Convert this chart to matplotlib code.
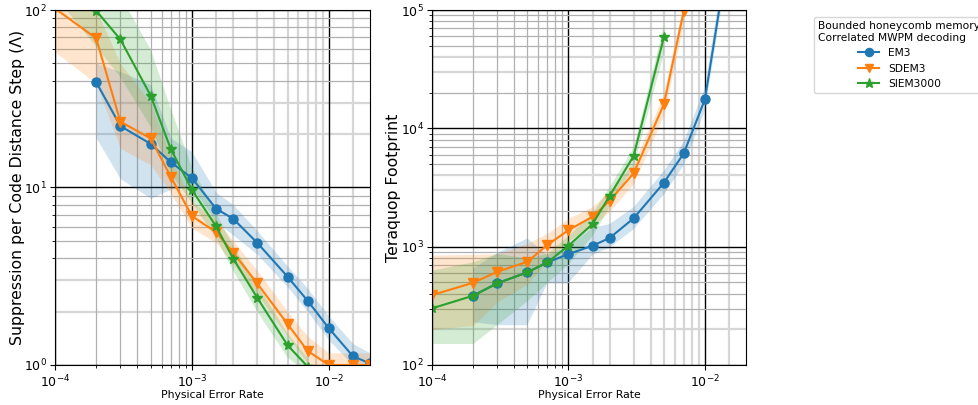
import numpy as np
import matplotlib
matplotlib.use("Agg")
import matplotlib.pyplot as plt
from matplotlib.ticker import FixedLocator

nan = np.nan

# ---------------- data ----------------
p = [1e-4, 2e-4, 3e-4, 5e-4, 7e-4, 1e-3, 1.5e-3, 2e-3, 3e-3, 5e-3, 7e-3, 1e-2, 1.5e-2, 2e-2]

series_names = ["EM3", "SDEM3", "SIEM3000"]

# Suppression per code distance step (Lambda)
em3_lam    = [nan, 39.2, 22.2, 17.6, 13.9, 11.3, 7.6, 6.67, 4.88, 3.14, 2.30, 1.61, 1.12, 1.02]
em3_lam_lo = [nan, 19.0, 11.2, 8.7, 9.8, 10.0, 6.4, 5.4, 4.2, 2.75, 2.0, 1.38, 1.0, 1.0]
em3_lam_hi = [nan, 50.0, 45.0, 38.0, 19.0, 15.9, 9.4, 8.0, 5.7, 3.6, 2.7, 1.88, 1.32, 1.17]

sdem3_lam    = [102, 69.2, 23.5, 18.9, 11.5, 6.9, 5.6, 4.3, 2.88, 1.70, 1.20, 1.0, 1.0, 1.0]
sdem3_lam_lo = [58, 38.6, 16.6, 13.4, 9.3, 5.9, 4.9, 3.7, 2.5, 1.45, 1.02, 0.9, 0.9, 0.9]
sdem3_lam_hi = [160, 100, 50, 30, 15, 8.3, 6.6, 5.0, 3.4, 2.0, 1.45, 1.17, 1.17, 1.17]

siem_lam    = [180, 99, 68.3, 32.9, 16.5, 9.7, 6.05, 3.98, 2.39, 1.29, 0.98, nan, nan, nan]
siem_lam_lo = [120, 62, 42, 22, 12, 8.2, 5.2, 3.4, 2.0, 1.1, 0.9, nan, nan, nan]
siem_lam_hi = [300, 200, 120, 60, 28, 13, 7.2, 4.7, 2.85, 1.5, 1.1, nan, nan, nan]

# Teraquop footprint
em3_tq    = [nan, 385, 490, 607, 737, 866, 1018, 1183, 1734, 3467, 6150, 17580, 330000, 1e6]
em3_tq_lo = [nan, 230, 217, 217, 490, 490, 850, 980, 1400, 2750, 4900, 14000, 260000, 8e5]
em3_tq_hi = [nan, 650, 880, 1175, 850, 1000, 1450, 1550, 2150, 4350, 7700, 22000, 420000, 1.3e6]

sdem3_tq    = [390, 495, 613, 746, 1033, 1380, 1790, 2443, 4160, 15960, 98000, nan, nan, nan]
sdem3_tq_lo = [200, 215, 340, 480, 760, 1130, 1480, 2000, 3400, 13000, 80000, nan, nan, nan]
sdem3_tq_hi = [850, 860, 870, 1066, 1294, 1734, 2180, 2950, 5050, 19500, 120000, nan, nan, nan]

siem_tq    = [301, 385, 490, 607, 737, 1018, 1553, 2679, 5834, 58750, nan, nan, nan, nan]
siem_tq_lo = [152, 152, 220, 350, 500, 720, 1250, 2200, 4900, 44500, nan, nan, nan, nan]
siem_tq_hi = [634, 746, 877, 800, 880, 1250, 1950, 3250, 7000, 77000, nan, nan, nan, nan]

colors = ["#1f77b4", "#ff7f0e", "#2ca02c"]
markers = ["o", "v", "*"]

lam_sets = [(em3_lam, em3_lam_lo, em3_lam_hi),
            (sdem3_lam, sdem3_lam_lo, sdem3_lam_hi),
            (siem_lam, siem_lam_lo, siem_lam_hi)]
tq_sets = [(em3_tq, em3_tq_lo, em3_tq_hi),
           (sdem3_tq, sdem3_tq_lo, sdem3_tq_hi),
           (siem_tq, siem_tq_lo, siem_tq_hi)]

# ---------------- figure ----------------
fig = plt.figure(figsize=(9.79, 4.05), dpi=100)
ax1 = fig.add_axes([0.0562, 0.0988, 0.3218, 0.8765])
ax2 = fig.add_axes([0.4413, 0.0988, 0.3207, 0.8765])

GRAY = "#b0b0b0"
LIGHT = "#d6d6d6"

def decade_lines(decades, subs):
    return [k * 10.0 ** e for e in decades for k in subs]

def style_axis(ax, ylim, ydecades, light_y):
    ax.set_xscale("log")
    ax.set_yscale("log")
    ax.set_xlim(1e-4, 2e-2)
    ax.set_ylim(*ylim)
    ax.xaxis.set_minor_locator(FixedLocator(decade_lines((-4,), range(2, 10))))
    all_minor_y = decade_lines(ydecades, range(2, 10))
    gray_y = [v for v in all_minor_y if not any(abs(v / l - 1) < 1e-9 for l in light_y)]
    ax.yaxis.set_minor_locator(FixedLocator(gray_y))
    ax.yaxis.set_minor_formatter(plt.NullFormatter())
    ax.xaxis.set_minor_formatter(plt.NullFormatter())
    ax.grid(which="major", color="black", linewidth=1.0, zorder=0.7)
    ax.grid(which="minor", color=GRAY, linewidth=0.9)
    ax.set_axisbelow(True)
    for v in decade_lines((-3,), range(2, 10)) + [1.5e-3, 1.5e-2]:
        ax.axvline(v, color=LIGHT, linewidth=1.6, zorder=0.4)
    for v in light_y:
        ax.axhline(v, color=LIGHT, linewidth=1.6, zorder=0.4)
    ax.tick_params(which="both", labelsize=9, pad=2.5)
    ax.tick_params(which="minor", length=2)
    ax.set_xlabel("Physical Error Rate", fontsize=7.8, labelpad=0)

for (y, lo, hi), c, m, name in zip(lam_sets, colors, markers, series_names):
    ax1.fill_between(p, lo, hi, color=c, alpha=0.2, linewidth=0)
    ax1.plot(p, y, color=c, marker=m, markersize=6.5 if m != "*" else 7.5,
             linewidth=1.5, label=name)
for (y, lo, hi), c, m in zip(tq_sets, colors, markers):
    ax2.fill_between(p, lo, hi, color=c, alpha=0.2, linewidth=0)
    ax2.plot(p, y, color=c, marker=m, markersize=6.5 if m != "*" else 7.5, linewidth=1.5)

style_axis(ax1, (1, 100), (0, 1), [2, 3, 20, 30])
style_axis(ax2, (1e2, 1e5), (2, 3, 4), [200, 3000, 4000, 30000, 40000])

ax1.set_ylabel("Suppression per Code Distance Step (Λ)", fontsize=11.3, labelpad=-1)
ax2.set_ylabel("Teraquop Footprint", fontsize=11.3, labelpad=0)

handles, labels = ax1.get_legend_handles_labels()
leg = fig.legend(handles, labels, loc="upper left", bbox_to_anchor=(0.8315, 0.958),
                 title="Bounded honeycomb memory\nCorrelated MWPM decoding",
                 fontsize=7.7, title_fontsize=7.7, frameon=True, markerscale=0.9,
                 borderaxespad=0.0)
leg.get_title().set_multialignment("left")

fig.savefig("out.png", dpi=100)
